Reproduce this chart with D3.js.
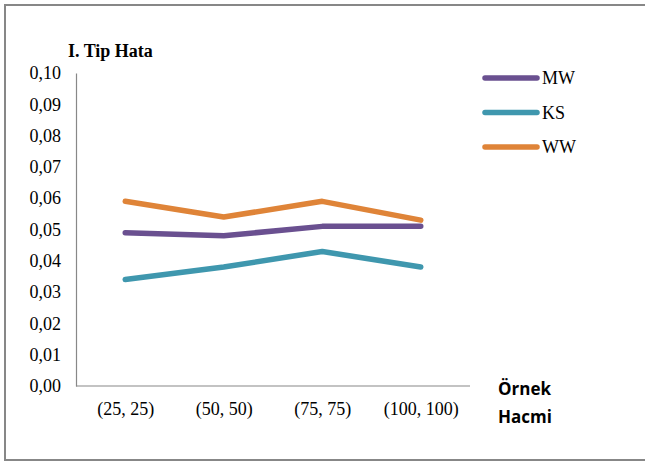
<!DOCTYPE html>
<html><head><meta charset="utf-8">
<script src="https://cdn.jsdelivr.net/npm/d3@7"></script>
<style>body{margin:0;background:#fff}svg{display:block}
.serif{font-family:"Liberation Serif","Times New Roman",serif;font-size:18px;fill:#000}
.sansb{font-family:"Open Sans","Liberation Sans",sans-serif;font-weight:bold;font-size:17px;fill:#000}
</style>
</head><body>
<svg id="c" width="645" height="463"></svg>
<script>
const categories = ["(25, 25)", "(50, 50)", "(75, 75)", "(100, 100)"];
const seriesNames = ["MW", "KS", "WW"];
const mwValues = [0.049, 0.048, 0.051, 0.051];
const ksValues = [0.034, 0.038, 0.043, 0.038];
const wwValues = [0.059, 0.054, 0.059, 0.053];
const yTicks = [0, 0.01, 0.02, 0.03, 0.04, 0.05, 0.06, 0.07, 0.08, 0.09, 0.10];
const colors = ["#6A5090", "#3F97AE", "#DF8438"];

(function () {
const series = [mwValues, ksValues, wwValues];
const svg = d3.select("#c");

svg.append("rect").attr("x", 5).attr("y", 5).attr("width", 645).attr("height", 455)
  .attr("fill", "#fff").attr("stroke", "#878787").attr("stroke-width", 2);

const pLeft = 76, pRight = 470, pTop = 73, pBottom = 386;
const x = d3.scalePoint().domain(categories).range([pLeft, pRight]).padding(0.5);
const y = d3.scaleLinear().domain([0, 0.10]).range([pBottom, pTop]);

const yAxis = d3.axisLeft(y).tickValues(yTicks).tickSize(0).tickPadding(15)
  .tickFormat(d => d3.format(".2f")(d).replace(".", ","));
const gy = svg.append("g").attr("transform", `translate(${pLeft},0)`).call(yAxis);
gy.attr("font-family", null).attr("font-size", null);
gy.select(".domain").attr("stroke", "#888").attr("stroke-width", 1.2);
gy.selectAll("text").attr("class", "serif").attr("fill", null);

const xAxis = d3.axisBottom(x).tickSize(0).tickPadding(16);
const gx = svg.append("g").attr("transform", `translate(0,${pBottom})`).call(xAxis);
gx.attr("font-family", null).attr("font-size", null);
gx.select(".domain").attr("stroke", "#888").attr("stroke-width", 1.2)
  .attr("d", `M${pLeft},0H${pRight}`);
gx.selectAll("text").attr("class", "serif").attr("fill", null);

const line = d3.line().x((d, i) => x(categories[i])).y(d => y(d));
series.forEach((s, k) => {
  svg.append("path").datum(s).attr("d", line).attr("fill", "none")
    .attr("stroke", colors[k]).attr("stroke-width", 5.5)
    .attr("stroke-linecap", "round").attr("stroke-linejoin", "round");
});

svg.append("text").attr("class", "serif").attr("x", 68).attr("y", 57).text("I. Tip Hata")
  .style("font-weight", "bold");

const xt = svg.append("text").attr("class", "sansb");
xt.append("tspan").attr("x", 498).attr("y", 394.5).text("Örnek");
xt.append("tspan").attr("x", 498).attr("y", 422.5).text("Hacmi");

const legY = [78, 112.5, 147];
seriesNames.forEach((n, k) => {
  svg.append("line").attr("x1", 485).attr("x2", 537).attr("y1", legY[k]).attr("y2", legY[k])
    .attr("stroke", colors[k]).attr("stroke-width", 5.5).attr("stroke-linecap", "round");
  svg.append("text").attr("class", "serif").attr("x", 542).attr("y", legY[k] + 6).text(n);
});
})();
</script>
</body></html>
